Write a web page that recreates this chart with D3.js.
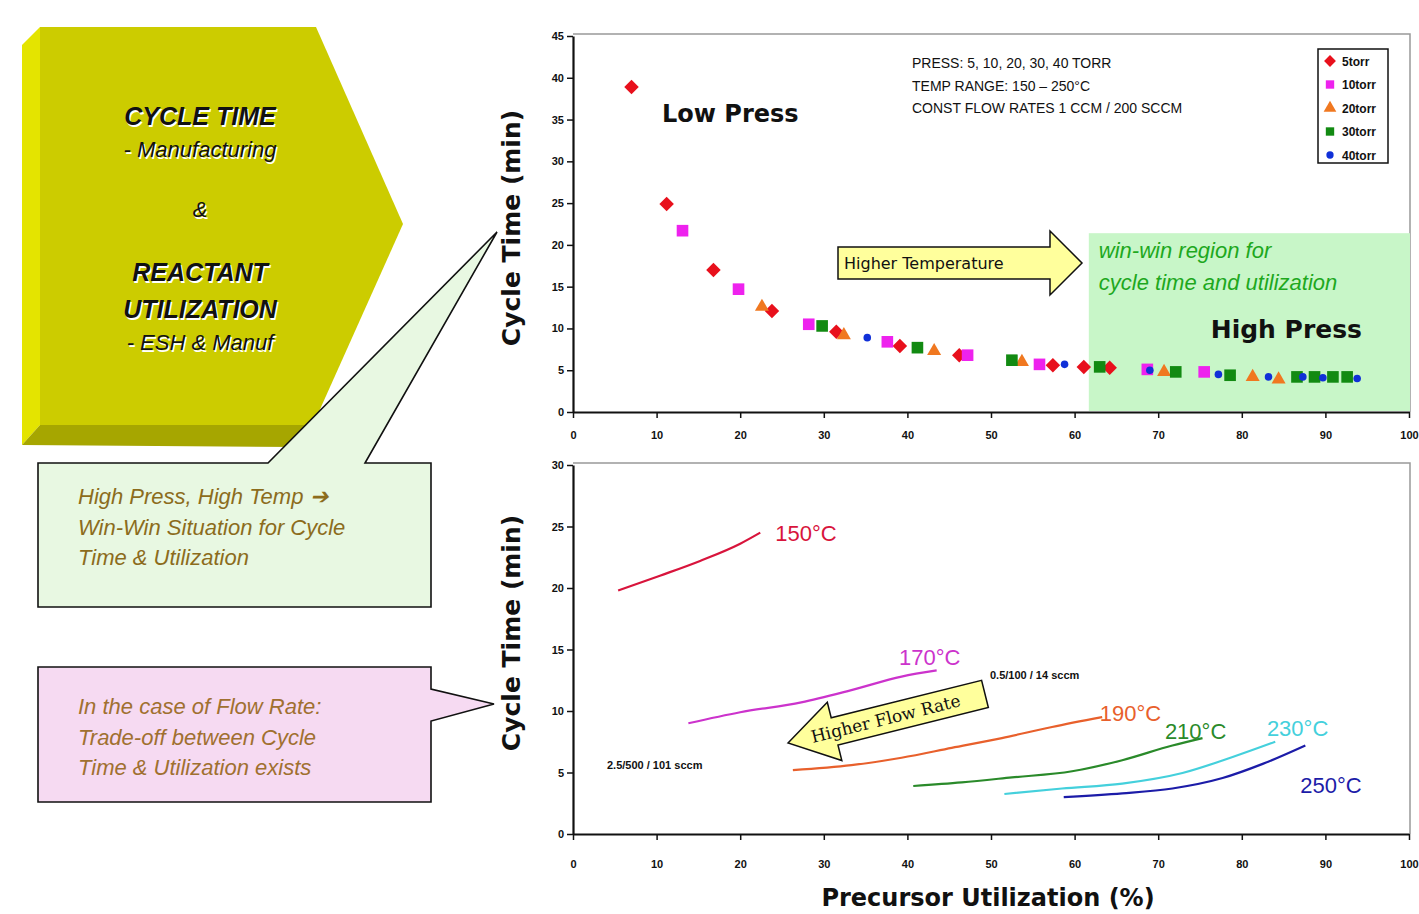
<!DOCTYPE html>
<html>
<head>
<meta charset="utf-8">
<script src="https://cdn.jsdelivr.net/npm/d3@7"></script>
<style>
  body { margin: 0; background: #fff; }
  svg { display: block; }
</style>
</head>
<body>
<svg id="chart" width="1419" height="914"></svg>
<script>
/*** DATA ***/
// top chart: cycle time vs precursor utilization, one pair of arrays per pressure
const torrNames = ["5torr", "10torr", "20torr", "30torr", "40torr"];
const util5 = [7.0, 11.2, 16.8, 23.8, 31.5, 39.1, 46.2, 57.4, 61.1, 64.2];
const cyc5 = [38.9, 24.9, 17.0, 12.1, 9.6, 7.9, 6.8, 5.6, 5.4, 5.3];
const util10 = [13.1, 19.8, 28.2, 37.6, 47.2, 55.8, 68.7, 75.5];
const cyc10 = [21.7, 14.7, 10.5, 8.4, 6.8, 5.7, 5.1, 4.8];
const util20 = [22.6, 32.4, 43.2, 53.7, 70.7, 81.3, 84.4];
const cyc20 = [12.6, 9.2, 7.3, 6.0, 4.8, 4.2, 3.9];
const util30 = [29.8, 41.2, 52.5, 63.0, 72.1, 78.6, 86.6, 88.7, 90.9, 92.6];
const cyc30 = [10.3, 7.7, 6.2, 5.4, 4.8, 4.4, 4.2, 4.2, 4.2, 4.2];
const util40 = [35.2, 58.8, 69.0, 77.2, 83.2, 87.3, 89.7, 93.8];
const cyc40 = [8.9, 5.7, 5.0, 4.5, 4.2, 4.2, 4.1, 4.0];

// bottom chart: one curve per temperature
const tempNames = ["150\u00b0C", "170\u00b0C", "190\u00b0C", "210\u00b0C", "230\u00b0C", "250\u00b0C"];
const util150 = [5.4, 10.4, 15.2, 20.0, 22.4];
const cyc150 = [19.8, 21.0, 22.2, 23.6, 24.5];
const util170 = [13.8, 20.0, 27.3, 33.3, 39.3, 43.5];
const cyc170 = [9.0, 9.9, 10.7, 11.7, 12.8, 13.3];
const util190 = [26.3, 33.3, 39.3, 45.3, 51.3, 57.3, 63.3];
const cyc190 = [5.2, 5.6, 6.2, 7.0, 7.8, 8.7, 9.5];
const util210 = [40.7, 46.5, 52.5, 59.7, 65.7, 71.7, 75.3];
const cyc210 = [3.9, 4.2, 4.6, 5.1, 6.0, 7.2, 7.8];
const util230 = [51.6, 58.5, 65.7, 72.9, 78.9, 84.0];
const cyc230 = [3.25, 3.7, 4.1, 4.96, 6.26, 7.5];
const util250 = [58.7, 65.7, 71.7, 77.7, 82.5, 87.6];
const cyc250 = [3.0, 3.3, 3.7, 4.55, 5.7, 7.2];

const xTicks = [0, 10, 20, 30, 40, 50, 60, 70, 80, 90, 100];
const yTicksTop = [0, 5, 10, 15, 20, 25, 30, 35, 40, 45];
const yTicksBot = [0, 5, 10, 15, 20, 25, 30];

const infoLines = ["PRESS: 5, 10, 20, 30, 40 TORR", "TEMP RANGE: 150 \u2013 250\u00b0C", "CONST FLOW RATES 1 CCM / 200 SCCM"];

/*** STYLE ***/
const torrColors = ["#e8101c", "#ee22ee", "#f07820", "#128a12", "#1030d8"];
const torrSymbols = ["diamond", "square", "triangle", "square", "circle"];
const tempColors = ["#d8143c", "#cc33cc", "#e8602c", "#2a8a2a", "#44d0dc", "#1c1ca8"];

const svg = d3.select("#chart");
const BOLD = "'Liberation Sans', Arial, sans-serif";

/*** SCALES ***/
const x = d3.scaleLinear().domain([0, 100]).range([573, 1409]);
const yTop = d3.scaleLinear().domain([0, 45]).range([412, 36]);
const yBot = d3.scaleLinear().domain([0, 30]).range([834, 465]);

function symbolPath(kind) {
  if (kind === "diamond") return d3.symbol(d3.symbolSquare, 105)();
  if (kind === "square") return d3.symbol(d3.symbolSquare, 135)();
  if (kind === "triangle") return d3.symbol(d3.symbolTriangle, 85)();
  return d3.symbol(d3.symbolCircle, 45)();
}

/*** LEFT PANEL ***/
const leftG = svg.append("g");
// bevel strips
leftG.append("polygon").attr("points", "22,45 40,27 40,425 22,445").attr("fill", "#e4e400");
leftG.append("polygon").attr("points", "22,445 40,425 313,425 296,447").attr("fill", "#a6a600");
leftG.append("polygon").attr("points", "40,27 316,27 403,224 313,425 40,425").attr("fill", "#cccc00");

const faceLines = [
  {t: "CYCLE TIME", y: 125, w: "bold", s: 25},
  {t: "- Manufacturing", y: 157, w: "normal", s: 22},
  {t: "&", y: 217, w: "normal", s: 22},
  {t: "REACTANT", y: 281, w: "bold", s: 25},
  {t: "UTILIZATION", y: 318, w: "bold", s: 25},
  {t: "- ESH & Manuf", y: 350, w: "normal", s: 22}
];
[["#fff", 1.5], ["#111", 0]].forEach(([c, o]) => {
  leftG.selectAll(null).data(faceLines).join("text")
    .attr("x", 200 + o).attr("y", d => d.y + o)
    .attr("text-anchor", "middle")
    .style("font-family", BOLD).style("font-style", "italic")
    .style("font-weight", d => d.w).style("font-size", d => d.s + "px")
    .attr("fill", c).text(d => d.t);
});

// green callout
leftG.append("path")
  .attr("d", "M38,463 L268,463 L497,232 L365,463 L431,463 L431,607 L38,607 Z")
  .attr("fill", "#e8f8e2").attr("stroke", "#111").attr("stroke-width", 1.6);
const greenText = ["High Press, High Temp \u2794", "Win-Win Situation for Cycle", "Time & Utilization"];
leftG.selectAll(null).data(greenText).join("text")
  .attr("x", 78).attr("y", (d, i) => 504 + i * 30.5)
  .style("font-family", BOLD).style("font-style", "italic").style("font-size", "22px")
  .attr("fill", "#8c6c1c").text(d => d);

// pink callout
leftG.append("path")
  .attr("d", "M38,667 L431,667 L431,689 L494,704 L431,721 L431,802 L38,802 Z")
  .attr("fill", "#f6daf2").attr("stroke", "#111").attr("stroke-width", 1.6);
const pinkText = ["In the case of Flow Rate:", "Trade-off between Cycle", "Time & Utilization exists"];
leftG.selectAll(null).data(pinkText).join("text")
  .attr("x", 78).attr("y", (d, i) => 714 + i * 30.5)
  .style("font-family", BOLD).style("font-style", "italic").style("font-size", "22px")
  .attr("fill", "#a07030").text(d => d);

/*** TOP CHART ***/
const topG = svg.append("g");

// frame
topG.append("path")
  .attr("d", `M${x(0)},${yTop(45) - 2} H1410 V${yTop(0)}`)
  .attr("fill", "none").attr("stroke", "#999").attr("stroke-width", 1.5);

// win-win region
topG.append("rect")
  .attr("x", x(61.7)).attr("y", yTop(21.4))
  .attr("width", 1410 - x(61.7)).attr("height", yTop(0) - yTop(21.4) - 1)
  .attr("fill", "#c8f6c8");
topG.selectAll(null).data(["win-win region for", "cycle time and utilization"]).join("text")
  .attr("x", x(62.9)).attr("y", (d, i) => 258 + i * 32)
  .style("font-family", BOLD).style("font-style", "italic").style("font-size", "22px")
  .attr("fill", "#1ea81e").text(d => d);
topG.append("text").attr("x", 1362).attr("y", 338).attr("text-anchor", "end")
  .style("font-family", "'DejaVu Sans', sans-serif").style("font-weight", "bold").style("font-size", "25px")
  .attr("fill", "#111").text("High Press");
topG.append("text").attr("x", 662).attr("y", 122)
  .style("font-family", "'DejaVu Sans', sans-serif").style("font-weight", "bold").style("font-size", "24px")
  .attr("fill", "#111").text("Low Press");

topG.selectAll(null).data(infoLines).join("text")
  .attr("x", 912).attr("y", (d, i) => 68 + i * 22.5)
  .style("font-family", BOLD).style("font-size", "14px")
  .attr("fill", "#111").text(d => d);

// Higher Temperature arrow
topG.append("polygon")
  .attr("points", "838,247 1050,247 1050,231 1082,263 1050,295 1050,279 838,279")
  .attr("fill", "#ffff9c").attr("stroke", "#111").attr("stroke-width", 1.5);
topG.append("text").attr("x", 844).attr("y", 269)
  .style("font-family", "'DejaVu Sans', sans-serif").style("font-size", "16px")
  .attr("fill", "#111").text("Higher Temperature");

// points
const torrSeries = [[util5, cyc5], [util10, cyc10], [util20, cyc20], [util30, cyc30], [util40, cyc40]];
torrSeries.forEach(([xs, ys], k) => {
  const pts = xs.map((v, i) => [v, ys[i]]);
  topG.append("g").selectAll("path").data(pts).join("path")
    .attr("d", symbolPath(torrSymbols[k]))
    .attr("transform", d => `translate(${x(d[0])},${yTop(d[1])})` + (torrSymbols[k] === "diamond" ? " rotate(45)" : ""))
    .attr("fill", torrColors[k]);
});

// legend
const lg = topG.append("g");
lg.append("rect").attr("x", 1318).attr("y", 49).attr("width", 70).attr("height", 114)
  .attr("fill", "#fff").attr("stroke", "#111").attr("stroke-width", 1.5);
torrNames.forEach((n, k) => {
  const yy = 61 + k * 23.5;
  lg.append("path")
    .attr("d", d3.symbol(k === 4 ? d3.symbolCircle : (k === 2 ? d3.symbolTriangle : d3.symbolSquare), k === 4 ? 42 : 70)())
    .attr("transform", `translate(1330,${yy})` + (k === 0 ? " rotate(45)" : ""))
    .attr("fill", torrColors[k]);
  lg.append("text").attr("x", 1342).attr("y", yy + 4.5)
    .style("font-family", BOLD).style("font-weight", "bold").style("font-size", "12px")
    .attr("fill", "#111").text(n);
});

/*** BOTTOM CHART ***/
const botG = svg.append("g");
botG.append("path")
  .attr("d", `M${x(0)},${yBot(30) - 2} H1410 V${yBot(0)}`)
  .attr("fill", "none").attr("stroke", "#999").attr("stroke-width", 1.5);

const tempSeries = [[util150, cyc150], [util170, cyc170], [util190, cyc190], [util210, cyc210], [util230, cyc230], [util250, cyc250]];
const line = d3.line().x(d => x(d[0])).y(d => yBot(d[1])).curve(d3.curveMonotoneX);
tempSeries.forEach(([xs, ys], k) => {
  botG.append("path")
    .attr("d", line(xs.map((v, i) => [v, ys[i]])))
    .attr("fill", "none").attr("stroke", tempColors[k]).attr("stroke-width", 2.2);
});

// temperature labels
const tempLabelPos = [[24.2, 24.5], [39.0, 14.4], [63.0, 9.8], [70.8, 8.4], [83.0, 8.6], [87.0, 4.0]];
botG.selectAll(null).data(tempNames).join("text")
  .attr("x", (d, i) => x(tempLabelPos[i][0])).attr("y", (d, i) => yBot(tempLabelPos[i][1]) + 8)
  .style("font-family", BOLD).style("font-size", "22px")
  .attr("fill", (d, i) => tempColors[i]).text(d => d);

botG.append("text").attr("x", 990).attr("y", 679)
  .style("font-family", BOLD).style("font-weight", "bold").style("font-size", "11px")
  .attr("fill", "#111").text("0.5/100 / 14 sccm");
botG.append("text").attr("x", 607).attr("y", 769)
  .style("font-family", BOLD).style("font-weight", "bold").style("font-size", "11px")
  .attr("fill", "#111").text("2.5/500 / 101 sccm");

// Higher Flow Rate arrow (rotated)
const fa = botG.append("g").attr("transform", "translate(788,743) rotate(-14)");
fa.append("polygon")
  .attr("points", "0,0 48,-30 48,-14 203,-14 203,14 48,14 48,30")
  .attr("fill", "#ffff9c").attr("stroke", "#111").attr("stroke-width", 1.5);
fa.append("text").attr("x", 24).attr("y", 6)
  .style("font-family", "'DejaVu Serif', serif").style("font-size", "17px")
  .attr("fill", "#111").text("Higher Flow Rate");

/*** AXES ***/
function styleAxis(g) {
  g.select(".domain").attr("stroke", "#111").attr("stroke-width", 2.2);
  g.selectAll(".tick line").attr("stroke", "#111").attr("stroke-width", 1.5);
  g.selectAll(".tick text")
    .style("font-family", BOLD).style("font-weight", "bold").style("font-size", "11px")
    .attr("fill", "#111");
}

svg.append("g").attr("transform", `translate(0,${yTop(0)})`)
  .call(d3.axisBottom(x).tickValues(xTicks).tickSize(6).tickSizeOuter(0).tickPadding(13))
  .call(styleAxis);
svg.append("g").attr("transform", `translate(${x(0)},0)`)
  .call(d3.axisLeft(yTop).tickValues(yTicksTop).tickSize(6).tickSizeOuter(0).tickPadding(3))
  .call(styleAxis);
svg.append("g").attr("transform", `translate(0,${yBot(0)})`)
  .call(d3.axisBottom(x).tickValues(xTicks).tickSize(6).tickSizeOuter(0).tickPadding(20))
  .call(styleAxis);
svg.append("g").attr("transform", `translate(${x(0)},0)`)
  .call(d3.axisLeft(yBot).tickValues(yTicksBot).tickSize(6).tickSizeOuter(0).tickPadding(3))
  .call(styleAxis);

// axis titles
[228, 633].forEach(cy => {
  svg.append("text")
    .attr("transform", `translate(520,${cy}) rotate(-90)`)
    .attr("text-anchor", "middle")
    .style("font-family", "'DejaVu Sans', sans-serif").style("font-weight", "bold").style("font-size", "25px")
    .attr("fill", "#111").text("Cycle Time (min)");
});
svg.append("text").attr("x", 988).attr("y", 906).attr("text-anchor", "middle")
  .style("font-family", "'DejaVu Sans', sans-serif").style("font-weight", "bold").style("font-size", "24px")
  .attr("fill", "#111").text("Precursor Utilization (%)");
</script>
</body>
</html>
